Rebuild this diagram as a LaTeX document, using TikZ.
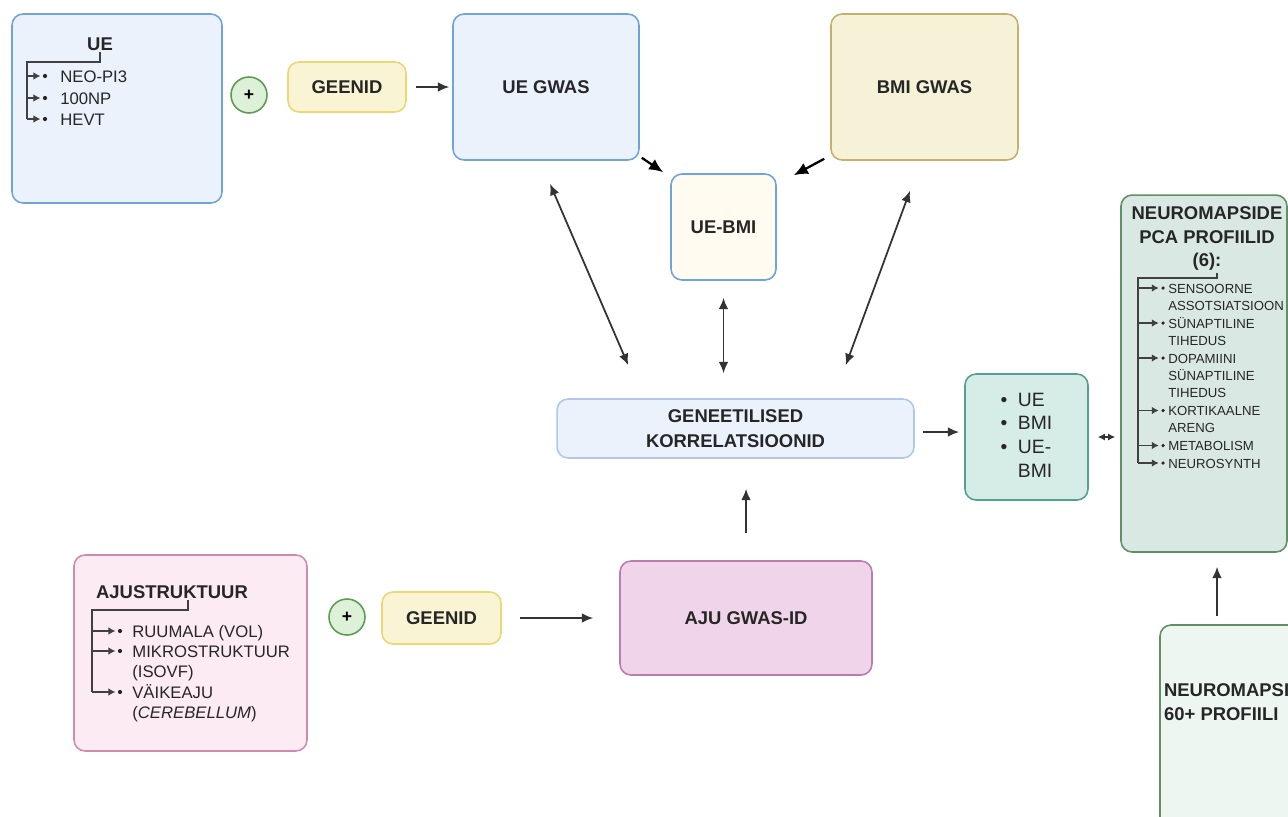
\documentclass[tikz,border=0pt]{standalone}
\usepackage{fontspec}
\setmainfont{Liberation Sans}
\usetikzlibrary{positioning, arrows.meta,
calc % for the tree spines
}
\definecolor{bluefill}{HTML}{EBF2FC}
\definecolor{blueline}{HTML}{6FA3DC}
\definecolor{paleblueline}{HTML}{AFC8EA}
\definecolor{creamfill}{HTML}{FFFBF0}
\definecolor{yelfill}{HTML}{F8F4D4}
\definecolor{yelline}{HTML}{EDD774}
\definecolor{beigefill}{HTML}{F5F2D8}
\definecolor{beigeline}{HTML}{C6B06E}
\definecolor{plusfill}{HTML}{DDF0D8}
\definecolor{plusline}{HTML}{5E9B55}
\definecolor{tealfill}{HTML}{D5ECE7}
\definecolor{tealline}{HTML}{55A091}
\definecolor{pcafill}{HTML}{DAE8E3}
\definecolor{greenline}{HTML}{608F63}
\definecolor{nmfill}{HTML}{EEF6F2}
\definecolor{pinkfill}{HTML}{FCEBF3}
\definecolor{pinkline}{HTML}{CF8AAE}
\definecolor{mauvefill}{HTML}{F0D5EA}
\definecolor{mauveline}{HTML}{B97DAD}
% list entry that hangs from its first baseline
\newcommand{\toplines}[1]{\begin{tabular}[t]{@{}l@{}}#1\end{tabular}}

\begin{document}
\begin{tikzpicture}[x=0.02cm, y=-0.02cm,
  box/.style={draw, rounded corners=0.22cm, line width=0.9pt, align=center, inner sep=0pt,
    text=black!85, font=\fontsize{10.5}{14}\selectfont\bfseries},
  boxtitle/.style={font=\fontsize{10.5}{13.3}\selectfont\bfseries, text=black!85, align=center, inner sep=1pt},
  listitem/.style={font=\fontsize{9.5}{11.9}\selectfont, text=black!85, anchor=base west, inner sep=0pt},
  smallitem/.style={font=\fontsize{7.5}{9.9}\selectfont, text=black!85, anchor=base west, inner sep=0pt},
  bulletdot/.style={circle, fill=black!85, inner sep=0pt, minimum size=2.4pt},
  treeline/.style={draw=black!75, line width=0.9pt},
  twig/.style={treeline, -{Latex[length=4pt,width=4.4pt]}, shorten >=1.2pt},
  flow/.style={draw=black!80, line width=1pt, -{Latex[length=6.5pt,width=5.5pt]}},
  flowboth/.style={flow, {Latex[length=6.5pt,width=5.5pt]}-{Latex[length=6.5pt,width=5.5pt]}},
  flowbold/.style={draw=black, line width=1.3pt, -{Latex[length=8pt,width=7pt]}},
  plusnode/.style={circle, draw=plusline, fill=plusfill, line width=0.9pt, minimum size=0.72cm,
    inner sep=0pt, font=\fontsize{10}{12}\selectfont\bfseries}
]
\useasboundingbox (0,0) rectangle (1288,816);
\clip (0,0) rectangle (1288,816);

% UE traits
\node[box, fill=bluefill, draw=blueline, minimum width=4.2cm, minimum height=3.78cm] (uebox) at (117,108.5) {};
\node[boxtitle, anchor=base] (uetitle) at (100,50) {UE};
\node[listitem] (uei1) at (60,82) {NEO-PI3};
\node[listitem] (uei2) at (60,104) {100NP};
\node[listitem] (uei3) at (60,125) {HEVT};
\foreach \y [count=\i] in {76,98,119}
  \node[bulletdot] (ueb\i) at (45,\y) {};
\coordinate (uespine) at (27,62);
\draw[treeline] (uetitle.south) |- (uespine) -- (uespine |- ueb3);
\foreach \i in {1,2,3}
  \draw[twig] (uespine |- ueb\i) -- (ueb\i);

\node[plusnode] (plus1) at (249,95) {+};
\node[box, fill=yelfill, draw=yelline, minimum width=2.36cm, minimum height=1cm] (geenid1) at (347,87) {GEENID};
\node[box, fill=bluefill, draw=blueline, minimum width=3.72cm, minimum height=2.92cm] (uegwas) at (546,87) {UE GWAS};
\node[box, fill=beigefill, draw=beigeline, minimum width=3.74cm, minimum height=2.92cm] (bmigwas) at (924.5,87) {BMI GWAS};
\node[box, fill=creamfill, draw=blueline, minimum width=2.1cm, minimum height=2.12cm] (uebmi) at (723.5,227) {UE-BMI};

% correlations
\node[box, fill=bluefill, draw=paleblueline, minimum width=7.14cm, minimum height=1.18cm] (gencor) at (735.5,428.5) {GENEETILISED\\KORRELATSIOONID};
\node[box, fill=tealfill, draw=tealline, minimum width=2.46cm, minimum height=2.52cm,
  font=\fontsize{11}{13.4}\selectfont] (traits) at (1026.5,437)
  {\begin{tabular}{@{}l@{\hspace{6pt}}l@{}}\textbullet & UE\\ \textbullet & BMI\\ \textbullet & UE-\\ & BMI\end{tabular}};

% neuromaps
\node[box, fill=pcafill, draw=greenline, minimum width=3.32cm, minimum height=7.14cm] (pcabox) at (1204,373.5) {};
\node[boxtitle, anchor=north] (pcatitle) at (1207,205) {NEUROMAPSIDE\\PCA PROFIILID\\(6):};
\node[smallitem] (pcai1) at (1168,293) {\toplines{SENSOORNE\\ASSOTSIATSIOON}};
\node[smallitem] (pcai2) at (1168,328) {\toplines{SÜNAPTILINE\\TIHEDUS}};
\node[smallitem] (pcai3) at (1168,363) {\toplines{DOPAMIINI\\SÜNAPTILINE\\TIHEDUS}};
\node[smallitem] (pcai4) at (1168,415.5) {\toplines{KORTIKAALNE\\ARENG}};
\node[smallitem] (pcai5) at (1168,450.5) {METABOLISM};
\node[smallitem] (pcai6) at (1168,468) {NEUROSYNTH};
\foreach \y [count=\i] in {288,323,358,410.5,445.5,463}
  \node[bulletdot, minimum size=2pt] (pcab\i) at (1163,\y) {};
\coordinate (pcaspine) at (1138,278);
\draw[treeline] ([shift={(10,0)}]pcatitle.south) |- (pcaspine) -- (pcaspine |- pcab6);
\foreach \i in {1,...,6}
  \draw[twig] (pcaspine |- pcab\i) -- (pcab\i);

\node[box, fill=nmfill, draw=greenline, minimum width=2.8cm, minimum height=4.1cm] (nm60) at (1230,727.5) {};
\node[boxtitle, anchor=west, align=left] (nmtitle) at (1162,702) {NEUROMAPSI\\60+ PROFIILI};

% brain structure
\node[box, fill=pinkfill, draw=pinkline, minimum width=4.66cm, minimum height=3.92cm] (ajubox) at (190.5,653) {};
\node[boxtitle, anchor=base] (ajutitle) at (172,598) {AJUSTRUKTUUR};
\node[listitem] (ajui1) at (132,637) {RUUMALA (VOL)};
\node[listitem] (ajui2) at (132,657) {\toplines{MIKROSTRUKTUUR\\(ISOVF)}};
\node[listitem] (ajui3) at (132,698) {\toplines{VÄIKEAJU\\(\textit{CEREBELLUM})}};
\foreach \y [count=\i] in {631,651,692}
  \node[bulletdot] (ajub\i) at (120,\y) {};
\coordinate (ajuspine) at (92,610);
\draw[treeline] ([shift={(16,0)}]ajutitle.south) |- (ajuspine) -- (ajuspine |- ajub3);
\foreach \i in {1,2,3}
  \draw[twig] (ajuspine |- ajub\i) -- (ajub\i);

\node[plusnode] (plus2) at (347,617) {+};
\node[box, fill=yelfill, draw=yelline, minimum width=2.38cm, minimum height=1.04cm] (geenid2) at (441.5,618) {GEENID};
\node[box, fill=mauvefill, draw=mauveline, minimum width=5.04cm, minimum height=2.28cm] (ajugwas) at (746,618) {AJU GWAS-ID};

% connectors
\draw[flow, shorten <=0.18cm, shorten >=0.06cm] (geenid1) -- (uegwas);
\draw[flowbold] ([shift={(2,-3)}]uegwas.south east) -- ([shift={(-7,-1)}]uebmi.north west);
\draw[flowbold] ([shift={(-6,-2)}]bmigwas.south west) -- ([shift={(17,2)}]uebmi.north east);
\draw[flowboth] ([shift={(4,23)}]uegwas.south) -- ([shift={(72,-33)}]gencor.north west);
\draw[flowboth, shorten <=0.34cm, shorten >=0.5cm] (uebmi.south) -- (uebmi.south |- gencor.north);
\draw[flowboth] ([shift={(-14.5,30)}]bmigwas.south) -- ([shift={(-69,-33)}]gencor.north east);
\draw[flow, shorten <=0.16cm, shorten >=0.1cm] ([yshift=-0.07cm]gencor.east) -- ([yshift=-0.07cm]gencor.east -| traits.west);
\draw[flowboth, {Latex[length=4pt,width=4pt]}-{Latex[length=4pt,width=4pt]}, shorten <=0.18cm, shorten >=0.1cm] (traits.east) -- (traits.east -| pcabox.west);
\draw[flow, shorten <=0.54cm, shorten >=0.6cm] (ajugwas.north) -- (ajugwas.north |- gencor.south);
\draw[flow, shorten <=0.36cm, shorten >=0.52cm] (geenid2) -- (ajugwas);
\draw[flow] ([shift={(-13,-8)}]nm60.north) -- ([shift={(13,14)}]pcabox.south);
\end{tikzpicture}
\end{document}
